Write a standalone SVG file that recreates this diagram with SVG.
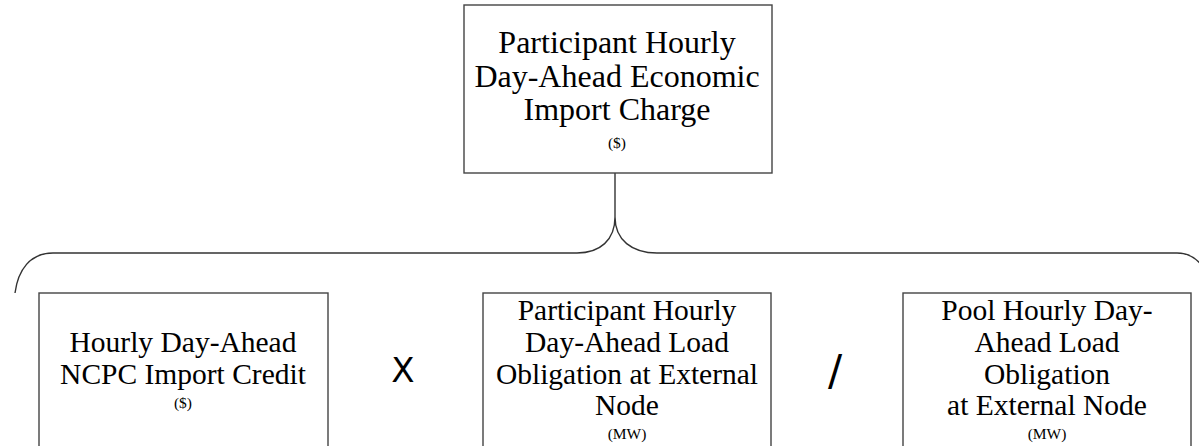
<svg xmlns="http://www.w3.org/2000/svg" width="1199" height="446" viewBox="0 0 1199 446">
<style>
.box{fill:#fff;stroke:#444;stroke-width:1.4}
.ln{fill:none;stroke:#333;stroke-width:1.4}
.big{font-family:"Liberation Serif","Times New Roman",serif;font-size:32px;fill:#000;text-anchor:middle}
.mid{font-family:"Liberation Serif","Times New Roman",serif;font-size:29.5px;fill:#000;text-anchor:middle}
.unit{font-family:"Liberation Serif","Times New Roman",serif;font-size:15.5px;fill:#000;text-anchor:middle}
.op{font-family:"DejaVu Sans",sans-serif;fill:#000;text-anchor:middle}
</style>
<rect width="1199" height="446" fill="#fff"/>
<g id="connectors">
<line class="ln" x1="615" y1="173" x2="615" y2="217"/>
<path class="ln" d="M15,293 C18,270 30,253 53,253 L577,253 C600,253 615,240 615,217 C615,240 632,253 657,253 L1177,253 C1197,253 1209,270 1212,293"/>
</g>
<g id="node-top">
<rect class="box" x="464" y="5" width="308" height="168"/>
<text class="big" x="617" y="53">Participant Hourly</text>
<text class="big" x="617" y="87">Day-Ahead Economic</text>
<text class="big" x="617" y="120">Import Charge</text>
<text class="unit" x="617" y="148">($)</text>
</g>
<g id="node-credit">
<rect class="box" x="39" y="293" width="289" height="170"/>
<text class="mid" x="183" y="352">Hourly Day-Ahead</text>
<text class="mid" x="183" y="384">NCPC Import Credit</text>
<text class="unit" x="183" y="408">($)</text>
</g>
<g id="op-times">
<text class="op" x="403" y="382" font-size="34">X</text>
</g>
<g id="node-participant-load">
<rect class="box" x="483" y="293" width="288" height="170"/>
<text class="mid" x="627" y="320">Participant Hourly</text>
<text class="mid" x="627" y="352">Day-Ahead Load</text>
<text class="mid" x="627" y="384">Obligation at External</text>
<text class="mid" x="627" y="415">Node</text>
<text class="unit" x="627" y="439">(MW)</text>
</g>
<g id="op-divide">
<text class="op" x="835" y="385" font-size="42">/</text>
</g>
<g id="node-pool-load">
<rect class="box" x="903" y="293" width="288" height="170"/>
<text class="mid" x="1047" y="320">Pool Hourly Day-</text>
<text class="mid" x="1047" y="352">Ahead Load</text>
<text class="mid" x="1047" y="384">Obligation</text>
<text class="mid" x="1047" y="415">at External Node</text>
<text class="unit" x="1047" y="439">(MW)</text>
</g>
</svg>
